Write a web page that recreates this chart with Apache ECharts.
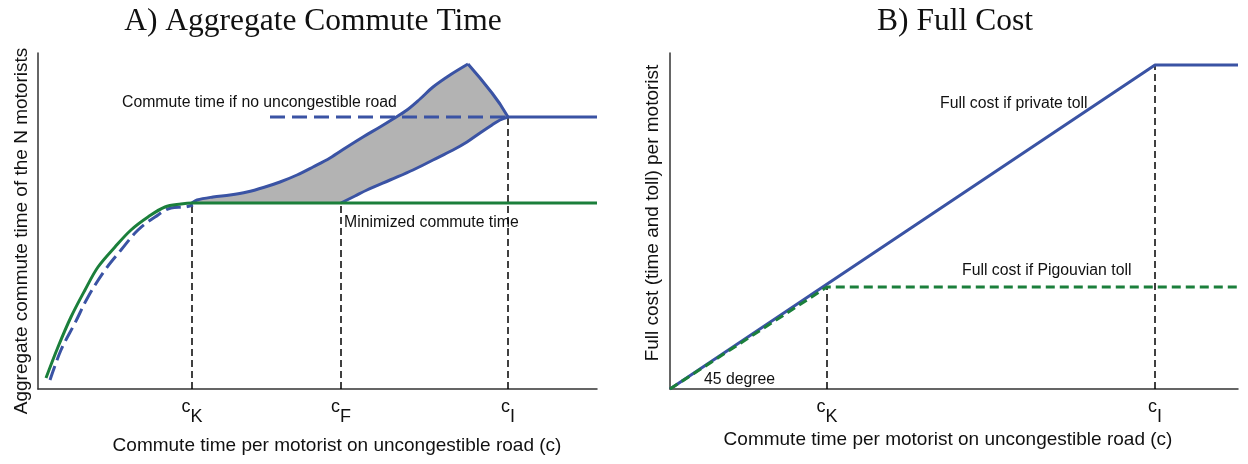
<!DOCTYPE html>
<html><head><meta charset="utf-8">
<script src="https://cdn.jsdelivr.net/npm/echarts@6/dist/echarts.min.js"></script>
<style>html,body{margin:0;padding:0;background:#fff}#c{width:1248px;height:464px}</style>
</head><body><div id="c"></div>
<script>
// ---------- Panel A data (arbitrary units) ----------
const aXMax = 559, aYMax = 336;
const aTickValues = [154, 303, 470];
const aTickNames = ['K', 'F', 'I'];
const minimizedTime = [[8,11],[20,42],[33,72],[47,99],[60,122],[77,142],[93,159],[110,172],[127,182],[143,185],[154,186],[559,186]];
const noRoadEarly = [[12,9],[23,39],[37,66],[50,92],[67,119],[83,139],[100,159],[117,172],[133,181],[147,182],[155,184]];
const upperRise = [[154,186],[159,189],[175,192],[192,194],[209,197],[227,202],[242,207],[259,214],[275,222],[292,231],[309,242],[325,252],[342,262],[355,270],[369,279],[382,290],[395,302],[412,314],[430,325]];
const upperFall = [[430,325],[442,311],[454,296],[462,285],[470,272]];
const lowerCurve = [[303,186],[317,193],[329,199],[352,209],[375,219],[395,229],[415,239],[429,247],[442,256],[454,264],[462,269],[470,272]];
const afterCI = [[470,272],[559,272]];
const noRoadFlat = [[232,272],[470,272]];
const aVLines = [[154,186],[303,186],[470,272]];

// ---------- Panel B data ----------
const bXMax = 568, bYMax = 336;
const bTickValues = [157, 485];
const bTickNames = ['K', 'I'];
const privateToll = [[0,0],[485,324],[568,324]];
const pigouvianToll = [[0,0],[157,102],[568,102]];
const bVLines = [[157,102],[485,324]];

const BLUE = '#3a53a4', GREEN = '#1b7f3b', TXT = '#111';
const SANS = '"Liberation Sans", Arial, sans-serif';

function vlineSeries(xi, yi, pts) {
  return pts.map(p => ({
    type: 'line', xAxisIndex: xi, yAxisIndex: yi, data: [[p[0], 0], p],
    symbol: 'none', silent: true, z: 3,
    lineStyle: { color: '#000', width: 1.5, type: [7, 4] }
  }));
}
function tickLabel(values, names) {
  return {
    customValues: values,
    margin: 9,
    color: TXT,
    formatter: v => '{c|c}{s|' + names[values.indexOf(v)] + '}',
    rich: {
      c: { fontSize: 18, fontFamily: SANS, color: TXT, verticalAlign: 'top', lineHeight: 20 },
      s: { fontSize: 18, fontFamily: SANS, color: TXT, padding: [18, 0, 0, 0], lineHeight: 20 }
    }
  };
}
const axisLineStyle = { show: true, lineStyle: { color: '#333', width: 1.5 } };
function line(xi, data, color, z, dash, smooth) {
  return { type: 'line', xAxisIndex: xi, yAxisIndex: xi, data, symbol: 'none', z, silent: true,
    smooth: smooth ? 0.35 : false,
    lineStyle: { color, width: 3, type: dash || 'solid' } };
}

const chart = echarts.init(document.getElementById('c'));
chart.setOption({
  animation: false,
  backgroundColor: '#fff',
  title: [
    { text: 'A) Aggregate Commute Time', left: 308, top: 1, textAlign: 'center',
      textStyle: { fontFamily: '"Liberation Serif", serif', fontWeight: 'normal', fontSize: 31.5, color: TXT } },
    { text: 'B) Full Cost', left: 950, top: 1, textAlign: 'center',
      textStyle: { fontFamily: '"Liberation Serif", serif', fontWeight: 'normal', fontSize: 31.5, color: TXT } }
  ],
  grid: [
    { left: 38, top: 53, width: 559, height: 336 },
    { left: 670, top: 53, width: 568, height: 336 }
  ],
  xAxis: [
    { type: 'value', gridIndex: 0, min: 0, max: aXMax, axisLine: axisLineStyle, axisTick: { show: false },
      splitLine: { show: false }, axisLabel: tickLabel(aTickValues, aTickNames) },
    { type: 'value', gridIndex: 1, min: 0, max: bXMax, axisLine: axisLineStyle, axisTick: { show: false },
      splitLine: { show: false }, axisLabel: tickLabel(bTickValues, bTickNames) }
  ],
  yAxis: [
    { type: 'value', gridIndex: 0, min: 0, max: aYMax, axisLine: axisLineStyle, axisTick: { show: false },
      splitLine: { show: false }, axisLabel: { show: false } },
    { type: 'value', gridIndex: 1, min: 0, max: bYMax, axisLine: axisLineStyle, axisTick: { show: false },
      splitLine: { show: false }, axisLabel: { show: false } }
  ],
  graphic: [
    { type: 'text', x: 337, y: 446, style: { text: 'Commute time per motorist on uncongestible road (c)', font: '19px ' + SANS, fill: TXT, textAlign: 'center', textVerticalAlign: 'middle' } },
    { type: 'text', x: 948, y: 440, style: { text: 'Commute time per motorist on uncongestible road (c)', font: '19px ' + SANS, fill: TXT, textAlign: 'center', textVerticalAlign: 'middle' } },
    { type: 'text', x: 22, y: 231, rotation: Math.PI / 2, style: { text: 'Aggregate commute time of the N motorists', font: '19px ' + SANS, fill: TXT, textAlign: 'center', textVerticalAlign: 'middle' } },
    { type: 'text', x: 653, y: 213, rotation: Math.PI / 2, style: { text: 'Full cost (time and toll) per motorist', font: '19px ' + SANS, fill: TXT, textAlign: 'center', textVerticalAlign: 'middle' } },
    { type: 'text', x: 122, y: 103, style: { text: 'Commute time if no uncongestible road', font: '15.8px ' + SANS, fill: TXT, textAlign: 'left', textVerticalAlign: 'middle' } },
    { type: 'text', x: 344, y: 223, style: { text: 'Minimized commute time', font: '15.8px ' + SANS, fill: TXT, textAlign: 'left', textVerticalAlign: 'middle' } },
    { type: 'text', x: 940, y: 104, style: { text: 'Full cost if private toll', font: '15.8px ' + SANS, fill: TXT, textAlign: 'left', textVerticalAlign: 'middle' } },
    { type: 'text', x: 962, y: 271, style: { text: 'Full cost if Pigouvian toll', font: '15.8px ' + SANS, fill: TXT, textAlign: 'left', textVerticalAlign: 'middle' } },
    { type: 'text', x: 704, y: 380, style: { text: '45 degree', font: '15.8px ' + SANS, fill: TXT, textAlign: 'left', textVerticalAlign: 'middle' } }
  ],
  series: [
    {
      type: 'custom', xAxisIndex: 0, yAxisIndex: 0, data: [0], silent: true, z: 1,
      renderItem: (params, api) => {
        const poly = upperRise.concat(upperFall.slice(1), lowerCurve.slice().reverse());
        return { type: 'polygon', shape: { points: poly.map(p => api.coord(p)) },
          style: { fill: '#b3b3b3', stroke: null } };
      }
    },
    ...vlineSeries(0, 0, aVLines),
    line(0, noRoadEarly, BLUE, 4, [15, 6], true),
    line(0, noRoadFlat, BLUE, 4, [15, 7], false),
    line(0, upperRise, BLUE, 5, null, true),
    line(0, upperFall, BLUE, 5, null, false),
    line(0, lowerCurve, BLUE, 5, null, true),
    line(0, afterCI, BLUE, 5, null, false),
    line(0, minimizedTime, GREEN, 6, null, true),
    ...vlineSeries(1, 1, bVLines),
    line(1, privateToll, BLUE, 5, null, false),
    line(1, pigouvianToll, GREEN, 6, [9, 5], false)
  ]
});
</script></body></html>
